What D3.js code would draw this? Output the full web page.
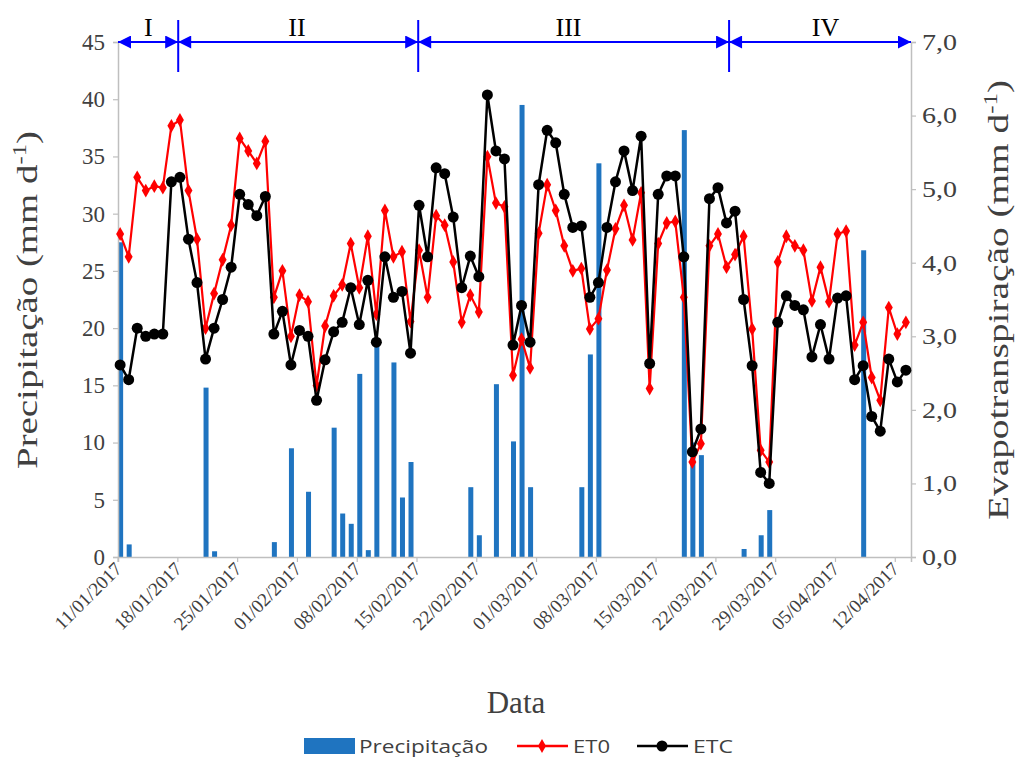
<!DOCTYPE html>
<html><head><meta charset="utf-8">
<script src="https://cdn.jsdelivr.net/npm/d3@7"></script>
<style>body{margin:0;background:#fff}</style>
</head><body>
<svg id="c" width="1023" height="760"></svg>
<script>
// ---- data (day index 0 = 11/01/2017, daily to 13/04/2017) ----
const precipitacao = [
 27.5,1.1,0,0,0,0,0,0,0,0,
 14.8,0.5,0,0,0,0,0,0,1.3,0,
 9.5,0,5.7,0,0,11.3,3.8,2.9,16,0.6,
 18.5,0,17,5.2,8.3,0,0,0,0,0,
 0,6.1,1.9,0,15.1,0,10.1,39.5,6.1,0,
 0,0,0,0,6.1,17.7,34.4,0,0,0,
 0,0,0,0,0,0,37.3,10,8.9,0,
 0,0,0,0.7,0,1.9,4.1,0,0,0,
 0,0,0,0,0,0,0,26.8,0,0,
 0,0,0];
const et0 = [
 4.39,4.08,5.16,4.98,5.04,5.02,5.86,5.94,4.98,4.32,
 3.11,3.58,4.04,4.51,5.69,5.52,5.35,5.65,3.53,3.89,
 3.00,3.56,3.47,2.33,3.14,3.55,3.70,4.26,3.66,4.36,
 3.30,4.71,4.08,4.15,3.20,4.17,3.53,4.64,4.51,4.01,
 3.19,3.56,3.33,5.44,4.81,4.76,2.47,2.96,2.57,4.40,
 5.06,4.71,4.23,3.89,3.92,3.10,3.24,3.90,4.46,4.78,
 4.31,4.95,2.29,4.26,4.54,4.56,3.53,1.29,1.54,4.23,
 4.39,3.94,4.11,4.36,3.10,1.45,1.29,4.01,4.36,4.23,
 4.17,3.48,3.94,3.47,4.39,4.43,2.88,3.19,2.44,2.13,
 3.39,3.03,3.19];
const etc = [
 2.61,2.41,3.11,3.00,3.03,3.03,5.10,5.16,4.32,3.73,
 2.69,3.11,3.50,3.94,4.93,4.79,4.64,4.90,3.03,3.34,
 2.61,3.08,3.00,2.13,2.68,3.06,3.19,3.66,3.16,3.76,
 2.92,4.08,3.53,3.61,2.77,4.78,4.08,5.29,5.21,4.62,
 3.66,4.09,3.81,6.28,5.52,5.41,2.88,3.42,2.92,5.06,
 5.80,5.63,4.93,4.48,4.50,3.53,3.73,4.48,5.10,5.52,
 4.98,5.72,2.63,4.93,5.18,5.18,4.08,1.43,1.74,4.87,
 5.02,4.54,4.70,3.50,2.60,1.15,1.00,3.19,3.55,3.42,
 3.36,2.72,3.16,2.69,3.52,3.55,2.41,2.60,1.91,1.71,
 2.69,2.38,2.54];
const dateTickLabels = ["11/01/2017","18/01/2017","25/01/2017","01/02/2017","08/02/2017",
 "15/02/2017","22/02/2017","01/03/2017","08/03/2017","15/03/2017","22/03/2017",
 "29/03/2017","05/04/2017","12/04/2017"];
const dateTickDays = [0,7,14,21,28,35,42,49,56,63,70,77,84,91];
const leftTicks = [0,5,10,15,20,25,30,35,40,45];
const rightTicks = [0,1,2,3,4,5,6,7];
const stageNames = ["I","II","III","IV"];
const stageBounds = [-0.25, 6.8, 34.9, 71.3, 92.6];
const stageLabelDays = [3.3, 20.7, 52.5, 82.6];

// ---- layout ----
const svg = d3.select("#c");
const L = 118, R = 911, T = 42, B = 557;
const x = d3.scaleLinear().domain([-0.25, 92.6]).range([L, R]);
const yL = d3.scaleLinear().domain([0,45]).range([B,T]);
const yR = d3.scaleLinear().domain([0,7]).range([B,T]);
const serif = "'Liberation Serif','Times New Roman',serif";
const axisCol = "#bfbfbf", txtCol = "#404040";
const blue = "#1f74c0";

// bars
const barW = 5;
svg.append("g").selectAll("rect")
  .data(precipitacao.map((v,i)=>({v,i})).filter(d=>d.v>0))
  .join("rect")
  .attr("x",d=>x(d.i)-barW/2+0.5).attr("width",barW)
  .attr("y",d=>yL(d.v)).attr("height",d=>B-yL(d.v))
  .attr("fill",blue);

// axes
const gl = svg.append("g").attr("transform",`translate(${L},0)`)
  .call(d3.axisLeft(yL).tickValues(leftTicks).tickSize(5).tickPadding(8));
const gr = svg.append("g").attr("transform",`translate(${R},0)`)
  .call(d3.axisRight(yR).tickValues(rightTicks).tickSize(5).tickPadding(6)
    .tickFormat(d=>d3.format(".1f")(d).replace(".",",")));
const gb = svg.append("g").attr("transform",`translate(0,${B})`)
  .call(d3.axisBottom(x).tickValues(dateTickDays.map(d=>d-0.3)).tickSize(5)
    .tickFormat((d,i)=>dateTickLabels[i]));
[gl,gr,gb].forEach(g=>{
  g.attr("font-family",null).attr("font-size",null);
  g.select(".domain").attr("stroke",axisCol).attr("stroke-width",1.5);
  g.selectAll(".tick line").attr("stroke",axisCol).attr("stroke-width",1.2);
  g.selectAll("text").style("font-family",serif).style("fill",txtCol).style("font-size","23px");
});
gr.selectAll(".tick text").attr("textLength",35).attr("lengthAdjust","spacingAndGlyphs");
gb.selectAll(".tick text").style("font-size","19px")
  .attr("text-anchor","end").attr("dy",0).attr("y",0)
  .attr("transform","translate(5,13) rotate(-45)");

// lines
function series(data,color,shape,size,w){
  const g = svg.append("g");
  g.append("path").datum(data)
    .attr("d",d3.line().x((d,i)=>x(i)).y(d=>yR(d)))
    .attr("fill","none").attr("stroke",color).attr("stroke-width",w);
  g.selectAll("path.m").data(data).join("path").attr("class","m")
    .attr("transform",(d,i)=>`translate(${x(i)},${yR(d)})`)
    .attr("d",d3.symbol().type(shape).size(size)).attr("fill",color);
}
series(et0,"#ff0000",d3.symbolDiamond,55,2.2);
series(etc,"#000000",d3.symbolCircle,95,2.5);

// stage annotations
const defs = svg.append("defs");
defs.append("marker").attr("id","ah").attr("viewBox","0 0 10 10").attr("refX",10).attr("refY",5)
  .attr("markerWidth",15).attr("markerHeight",13).attr("markerUnits","userSpaceOnUse")
  .attr("orient","auto-start-reverse")
  .append("path").attr("d","M0,0 L10,5 L0,10 Z").attr("fill","#0000ff");
const ya = T;
for(let k=0;k<stageNames.length;k++){
  svg.append("line").attr("x1",x(stageBounds[k])).attr("x2",x(stageBounds[k+1]))
    .attr("y1",ya).attr("y2",ya).attr("stroke","#0000ff").attr("stroke-width",2)
    .attr("marker-start","url(#ah)").attr("marker-end","url(#ah)");
  svg.append("text").attr("x",x(stageLabelDays[k])).attr("y",36)
    .attr("text-anchor","middle").attr("font-family",serif).attr("font-size",26)
    .attr("fill","#000").text(stageNames[k]);
}
for(let k=1;k<stageNames.length;k++){
  svg.append("line").attr("x1",x(stageBounds[k])).attr("x2",x(stageBounds[k]))
    .attr("y1",20).attr("y2",72).attr("stroke","#0000ff").attr("stroke-width",2);
}

// titles
function vTitle(cx, label, len){
  const t = svg.append("text").attr("transform",`translate(${cx},300) rotate(-90)`)
    .attr("text-anchor","middle").attr("font-family",serif).attr("font-size",30).attr("fill",txtCol)
    .attr("textLength",len).attr("lengthAdjust","spacingAndGlyphs");
  t.append("tspan").text(label + " (mm d");
  t.append("tspan").attr("dy",-11).attr("font-size",19).text("-1");
  t.append("tspan").attr("dy",11).text(")");
}
vTitle(37, "Precipitação", 338);
vTitle(1008, "Evapotranspiração", 440);
svg.append("text").attr("x",516).attr("y",713).attr("text-anchor","middle")
  .attr("font-family",serif).attr("font-size",31).attr("fill",txtCol).text("Data");

// legend
const lg = svg.append("g").attr("font-family","'Open Sans', Lato, sans-serif").attr("font-size",19).attr("fill",txtCol);
lg.append("rect").attr("x",304).attr("y",738).attr("width",51).attr("height",16).attr("fill",blue);
lg.append("text").attr("x",359).attr("y",753).attr("textLength",129).attr("lengthAdjust","spacingAndGlyphs").text("Precipitação");
lg.append("line").attr("x1",517).attr("x2",568).attr("y1",746).attr("y2",746).attr("stroke","#ff0000").attr("stroke-width",2.5);
lg.append("path").attr("transform","translate(542,746)").attr("d",d3.symbol().type(d3.symbolDiamond).size(55)).attr("fill","#ff0000");
lg.append("text").attr("x",573).attr("y",753).attr("textLength",37).attr("lengthAdjust","spacingAndGlyphs").text("ET0");
lg.append("line").attr("x1",637).attr("x2",688).attr("y1",746).attr("y2",746).attr("stroke","#000").attr("stroke-width",2.5);
lg.append("path").attr("transform","translate(662,746)").attr("d",d3.symbol().type(d3.symbolCircle).size(95)).attr("fill","#000");
lg.append("text").attr("x",693).attr("y",753).attr("textLength",40).attr("lengthAdjust","spacingAndGlyphs").text("ETC");
</script>
</body></html>
